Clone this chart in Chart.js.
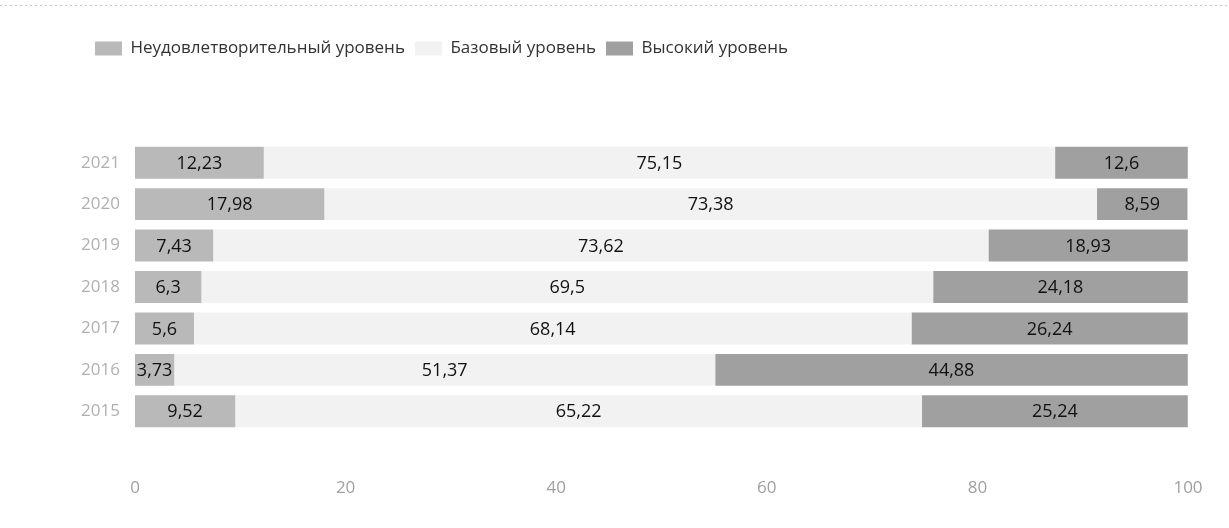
<!DOCTYPE html>
<html>
<head>
<meta charset="utf-8">
<script src="https://cdn.jsdelivr.net/npm/chart.js@4"></script>
<style>
  html, body { margin: 0; padding: 0; background: #fff; }
</style>
</head>
<body>
<canvas id="myChart" width="1229" height="528"></canvas>
<script>
const years = ['2021', '2020', '2019', '2018', '2017', '2016', '2015'];
const lowLevel = [12.23, 17.98, 7.43, 6.3, 5.6, 3.73, 9.52];
const baseLevel = [75.15, 73.38, 73.62, 69.5, 68.14, 51.37, 65.22];
const highLevel = [12.6, 8.59, 18.93, 24.18, 26.24, 44.88, 25.24];
const xTicks = [0, 20, 40, 60, 80, 100];

const FONT = "'Open Sans', 'Noto Sans', sans-serif";

// values drawn in the middle of each segment, with a comma as decimal mark
const segmentLabels = {
    id: 'segmentLabels',
    afterDatasetsDraw(chart) {
        const c = chart.ctx;
        c.save();
        c.font = '18px ' + FONT;
        c.fillStyle = '#111';
        c.textAlign = 'center';
        c.textBaseline = 'middle';
        chart.data.datasets.forEach((ds, i) => {
            chart.getDatasetMeta(i).data.forEach((bar, j) => {
                const p = bar.getProps(['x', 'y', 'base'], true);
                c.fillText(String(ds.data[j]).replace('.', ','), (p.x + p.base) / 2, p.y + 1);
            });
        });
        c.restore();
    }
};

// faint dotted edge along the top, as in the scan
const topEdge = {
    id: 'topEdge',
    beforeDraw(chart) {
        const c = chart.ctx;
        c.save();
        c.strokeStyle = '#c8c8c8';
        c.setLineDash([2, 3]);
        c.beginPath();
        c.moveTo(0, 5.5);
        c.lineTo(chart.width, 5.5);
        c.stroke();
        c.restore();
    }
};

// extra room between the legend and the bars, legend nudged right
const legendGap = {
    id: 'legendGap',
    beforeInit(chart) {
        const fit = chart.legend.fit;
        chart.legend.fit = function () {
            fit.bind(chart.legend)();
            this.height += 75;
        };
    },
    afterLayout(chart) {
        chart.legend.left += 25;
        chart.legend.right += 25;
    }
};

const ctx = document.getElementById('myChart').getContext('2d');

const myChart = new Chart(ctx, {
    type: 'bar',
    data: {
        labels: years,
        datasets: [
            { label: 'Неудовлетворительный уровень', data: lowLevel, backgroundColor: '#b9b9b9' },
            { label: 'Базовый уровень', data: baseLevel, backgroundColor: '#f2f2f2' },
            { label: 'Высокий уровень', data: highLevel, backgroundColor: '#a0a0a0' }
        ]
    },
    options: {
        indexAxis: 'y',
        responsive: false,
        animation: false,
        barPercentage: 0.77,
        categoryPercentage: 1,
        layout: { padding: { left: 60, right: 41, top: 30, bottom: 0 } },
        scales: {
            x: {
                stacked: true,
                min: 0,
                max: 100,
                afterBuildTicks: axis => { axis.ticks = xTicks.map(v => ({ value: v })); },
                afterFit: axis => {
                    axis.height = 96;
                    axis.paddingLeft = 0;
                    axis.paddingRight = 0;
                },
                grid: { display: false, drawTicks: false },
                border: { display: false },
                ticks: { color: '#a0a0a0', padding: 46, font: { family: FONT, size: 17 } }
            },
            y: {
                stacked: true,
                afterFit: axis => { axis.width = 75; },
                grid: { display: false, drawTicks: false },
                border: { display: false },
                ticks: { color: '#b0b0b0', padding: 15, font: { family: FONT, size: 17 } }
            }
        },
        plugins: {
            legend: {
                align: 'start',
                labels: {
                    boxWidth: 27,
                    boxHeight: 14,
                    color: '#333',
                    padding: 10,
                    font: { family: FONT, size: 17 }
                }
            },
            tooltip: { enabled: false }
        }
    },
    plugins: [segmentLabels, topEdge, legendGap]
});
</script>
</body>
</html>
